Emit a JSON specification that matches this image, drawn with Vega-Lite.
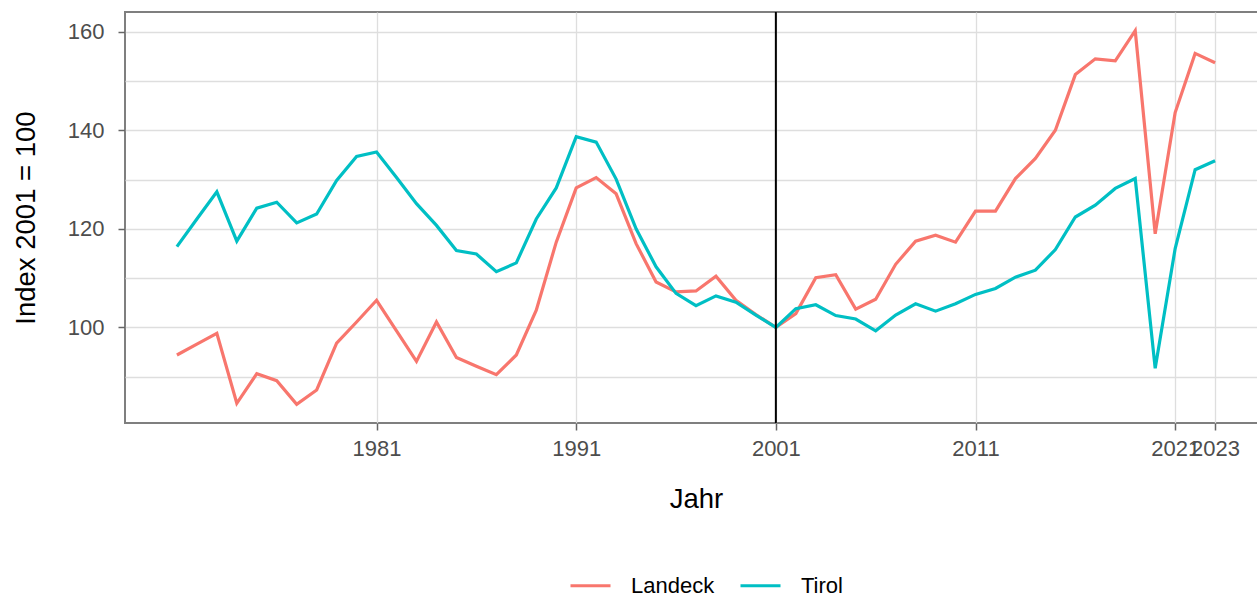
{
  "$schema": "https://vega.github.io/schema/vega-lite/v6.json",
  "autosize": "none",
  "padding": {"left": 125, "top": 12, "right": 0, "bottom": 172},
  "width": 1142,
  "height": 411,
  "background": "white",
  "config": {
    "font": "Liberation Sans",
    "view": {"stroke": "#7f7f7f", "strokeWidth": 2},
    "axis": {
      "labelFont": "Liberation Sans",
      "titleFont": "Liberation Sans",
      "labelFontSize": 22,
      "labelColor": "#4d4d4d",
      "titleFontSize": 27.5,
      "titleColor": "#000000",
      "titleFontWeight": "normal",
      "gridColor": "#dedede",
      "gridWidth": 1.3,
      "tickColor": "#666666",
      "tickWidth": 1.5,
      "tickSize": 7,
      "domain": false
    },
    "legend": {
      "labelFont": "Liberation Sans",
      "labelFontSize": 22,
      "labelColor": "#000000"
    }
  },
  "datasets": {
    "series": [
      {"Jahr": 1971, "Region": "Landeck", "Index": 94.4},
      {"Jahr": 1972, "Region": "Landeck", "Index": 96.6},
      {"Jahr": 1973, "Region": "Landeck", "Index": 98.8},
      {"Jahr": 1974, "Region": "Landeck", "Index": 84.6},
      {"Jahr": 1975, "Region": "Landeck", "Index": 90.6},
      {"Jahr": 1976, "Region": "Landeck", "Index": 89.2},
      {"Jahr": 1977, "Region": "Landeck", "Index": 84.4},
      {"Jahr": 1978, "Region": "Landeck", "Index": 87.3},
      {"Jahr": 1979, "Region": "Landeck", "Index": 96.8},
      {"Jahr": 1980, "Region": "Landeck", "Index": 101.1},
      {"Jahr": 1981, "Region": "Landeck", "Index": 105.5},
      {"Jahr": 1982, "Region": "Landeck", "Index": 99.3},
      {"Jahr": 1983, "Region": "Landeck", "Index": 93.1},
      {"Jahr": 1984, "Region": "Landeck", "Index": 101.1},
      {"Jahr": 1985, "Region": "Landeck", "Index": 93.9},
      {"Jahr": 1986, "Region": "Landeck", "Index": 92.1},
      {"Jahr": 1987, "Region": "Landeck", "Index": 90.4},
      {"Jahr": 1988, "Region": "Landeck", "Index": 94.4},
      {"Jahr": 1989, "Region": "Landeck", "Index": 103.5},
      {"Jahr": 1990, "Region": "Landeck", "Index": 117.3},
      {"Jahr": 1991, "Region": "Landeck", "Index": 128.3},
      {"Jahr": 1992, "Region": "Landeck", "Index": 130.4},
      {"Jahr": 1993, "Region": "Landeck", "Index": 127.1},
      {"Jahr": 1994, "Region": "Landeck", "Index": 117.0},
      {"Jahr": 1995, "Region": "Landeck", "Index": 109.2},
      {"Jahr": 1996, "Region": "Landeck", "Index": 107.2},
      {"Jahr": 1997, "Region": "Landeck", "Index": 107.4},
      {"Jahr": 1998, "Region": "Landeck", "Index": 110.4},
      {"Jahr": 1999, "Region": "Landeck", "Index": 105.5},
      {"Jahr": 2000, "Region": "Landeck", "Index": 102.6},
      {"Jahr": 2001, "Region": "Landeck", "Index": 100},
      {"Jahr": 2002, "Region": "Landeck", "Index": 102.8},
      {"Jahr": 2003, "Region": "Landeck", "Index": 110.1},
      {"Jahr": 2004, "Region": "Landeck", "Index": 110.7},
      {"Jahr": 2005, "Region": "Landeck", "Index": 103.7},
      {"Jahr": 2006, "Region": "Landeck", "Index": 105.7},
      {"Jahr": 2007, "Region": "Landeck", "Index": 112.8},
      {"Jahr": 2008, "Region": "Landeck", "Index": 117.5},
      {"Jahr": 2009, "Region": "Landeck", "Index": 118.7},
      {"Jahr": 2010, "Region": "Landeck", "Index": 117.3},
      {"Jahr": 2011, "Region": "Landeck", "Index": 123.6},
      {"Jahr": 2012, "Region": "Landeck", "Index": 123.6},
      {"Jahr": 2013, "Region": "Landeck", "Index": 130.2},
      {"Jahr": 2014, "Region": "Landeck", "Index": 134.3},
      {"Jahr": 2015, "Region": "Landeck", "Index": 140.0},
      {"Jahr": 2016, "Region": "Landeck", "Index": 151.3},
      {"Jahr": 2017, "Region": "Landeck", "Index": 154.5},
      {"Jahr": 2018, "Region": "Landeck", "Index": 154.1},
      {"Jahr": 2019, "Region": "Landeck", "Index": 160.2},
      {"Jahr": 2020, "Region": "Landeck", "Index": 119.0},
      {"Jahr": 2021, "Region": "Landeck", "Index": 143.6},
      {"Jahr": 2022, "Region": "Landeck", "Index": 155.6},
      {"Jahr": 2023, "Region": "Landeck", "Index": 153.7},
      {"Jahr": 1971, "Region": "Tirol", "Index": 116.4},
      {"Jahr": 1972, "Region": "Tirol", "Index": 122.0},
      {"Jahr": 1973, "Region": "Tirol", "Index": 127.5},
      {"Jahr": 1974, "Region": "Tirol", "Index": 117.5},
      {"Jahr": 1975, "Region": "Tirol", "Index": 124.2},
      {"Jahr": 1976, "Region": "Tirol", "Index": 125.4},
      {"Jahr": 1977, "Region": "Tirol", "Index": 121.2},
      {"Jahr": 1978, "Region": "Tirol", "Index": 123.0},
      {"Jahr": 1979, "Region": "Tirol", "Index": 129.8},
      {"Jahr": 1980, "Region": "Tirol", "Index": 134.7},
      {"Jahr": 1981, "Region": "Tirol", "Index": 135.6},
      {"Jahr": 1982, "Region": "Tirol", "Index": 130.4},
      {"Jahr": 1983, "Region": "Tirol", "Index": 125.1},
      {"Jahr": 1984, "Region": "Tirol", "Index": 120.7},
      {"Jahr": 1985, "Region": "Tirol", "Index": 115.6},
      {"Jahr": 1986, "Region": "Tirol", "Index": 114.9},
      {"Jahr": 1987, "Region": "Tirol", "Index": 111.3},
      {"Jahr": 1988, "Region": "Tirol", "Index": 113.1},
      {"Jahr": 1989, "Region": "Tirol", "Index": 122.0},
      {"Jahr": 1990, "Region": "Tirol", "Index": 128.3},
      {"Jahr": 1991, "Region": "Tirol", "Index": 138.7},
      {"Jahr": 1992, "Region": "Tirol", "Index": 137.6},
      {"Jahr": 1993, "Region": "Tirol", "Index": 130.1},
      {"Jahr": 1994, "Region": "Tirol", "Index": 120.0},
      {"Jahr": 1995, "Region": "Tirol", "Index": 112.3},
      {"Jahr": 1996, "Region": "Tirol", "Index": 106.9},
      {"Jahr": 1997, "Region": "Tirol", "Index": 104.4},
      {"Jahr": 1998, "Region": "Tirol", "Index": 106.4},
      {"Jahr": 1999, "Region": "Tirol", "Index": 105.1},
      {"Jahr": 2000, "Region": "Tirol", "Index": 102.5},
      {"Jahr": 2001, "Region": "Tirol", "Index": 100},
      {"Jahr": 2002, "Region": "Tirol", "Index": 103.8},
      {"Jahr": 2003, "Region": "Tirol", "Index": 104.6},
      {"Jahr": 2004, "Region": "Tirol", "Index": 102.4},
      {"Jahr": 2005, "Region": "Tirol", "Index": 101.7},
      {"Jahr": 2006, "Region": "Tirol", "Index": 99.3},
      {"Jahr": 2007, "Region": "Tirol", "Index": 102.5},
      {"Jahr": 2008, "Region": "Tirol", "Index": 104.8},
      {"Jahr": 2009, "Region": "Tirol", "Index": 103.3},
      {"Jahr": 2010, "Region": "Tirol", "Index": 104.8},
      {"Jahr": 2011, "Region": "Tirol", "Index": 106.7},
      {"Jahr": 2012, "Region": "Tirol", "Index": 107.9},
      {"Jahr": 2013, "Region": "Tirol", "Index": 110.2},
      {"Jahr": 2014, "Region": "Tirol", "Index": 111.6},
      {"Jahr": 2015, "Region": "Tirol", "Index": 115.8},
      {"Jahr": 2016, "Region": "Tirol", "Index": 122.4},
      {"Jahr": 2017, "Region": "Tirol", "Index": 124.8},
      {"Jahr": 2018, "Region": "Tirol", "Index": 128.2},
      {"Jahr": 2019, "Region": "Tirol", "Index": 130.2},
      {"Jahr": 2020, "Region": "Tirol", "Index": 91.7},
      {"Jahr": 2021, "Region": "Tirol", "Index": 116.0},
      {"Jahr": 2022, "Region": "Tirol", "Index": 132.0},
      {"Jahr": 2023, "Region": "Tirol", "Index": 133.8}
    ],
    "reference": [{"Jahr": 2001}]
  },
  "layer": [
    {
      "data": {"name": "series"},
      "mark": {"type": "line", "strokeWidth": 3.2, "clip": true},
      "encoding": {
        "x": {
          "field": "Jahr",
          "type": "quantitative",
          "scale": {"domain": [1968.4, 2025.6], "nice": false, "zero": false},
          "axis": {
            "title": "Jahr",
            "values": [1981, 1991, 2001, 2011, 2021, 2023],
            "format": "d",
            "grid": true,
            "labelOverlap": false,
            "labelFlush": false,
            "labelPadding": 8,
            "titlePadding": 26
          }
        },
        "y": {
          "field": "Index",
          "type": "quantitative",
          "scale": {"domain": [80.6, 164], "nice": false, "zero": false},
          "axis": {
            "title": "Index 2001 = 100",
            "values": [90, 100, 110, 120, 130, 140, 150, 160],
            "grid": true,
            "labelExpr": "datum.value % 20 == 0 ? datum.label : ''",
            "tickOpacity": {"condition": {"test": "datum.value % 20 == 0", "value": 1}, "value": 0},
            "labelPadding": 14,
            "titlePadding": 27
          }
        },
        "color": {
          "field": "Region",
          "type": "nominal",
          "scale": {"domain": ["Landeck", "Tirol"], "range": ["#F8766D", "#00BFC4"]},
          "legend": {
            "title": null,
            "orient": "none",
            "direction": "horizontal",
            "legendX": 444,
            "legendY": 552,
            "symbolType": "stroke",
            "symbolSize": 1600,
            "symbolStrokeWidth": 3,
            "labelOffset": 19,
            "columnPadding": 19,
            "padding": 0
          }
        }
      }
    },
    {
      "data": {"name": "reference"},
      "mark": {"type": "rule", "color": "#000000", "strokeWidth": 2},
      "encoding": {
        "x": {"field": "Jahr", "type": "quantitative"}
      }
    }
  ]
}
